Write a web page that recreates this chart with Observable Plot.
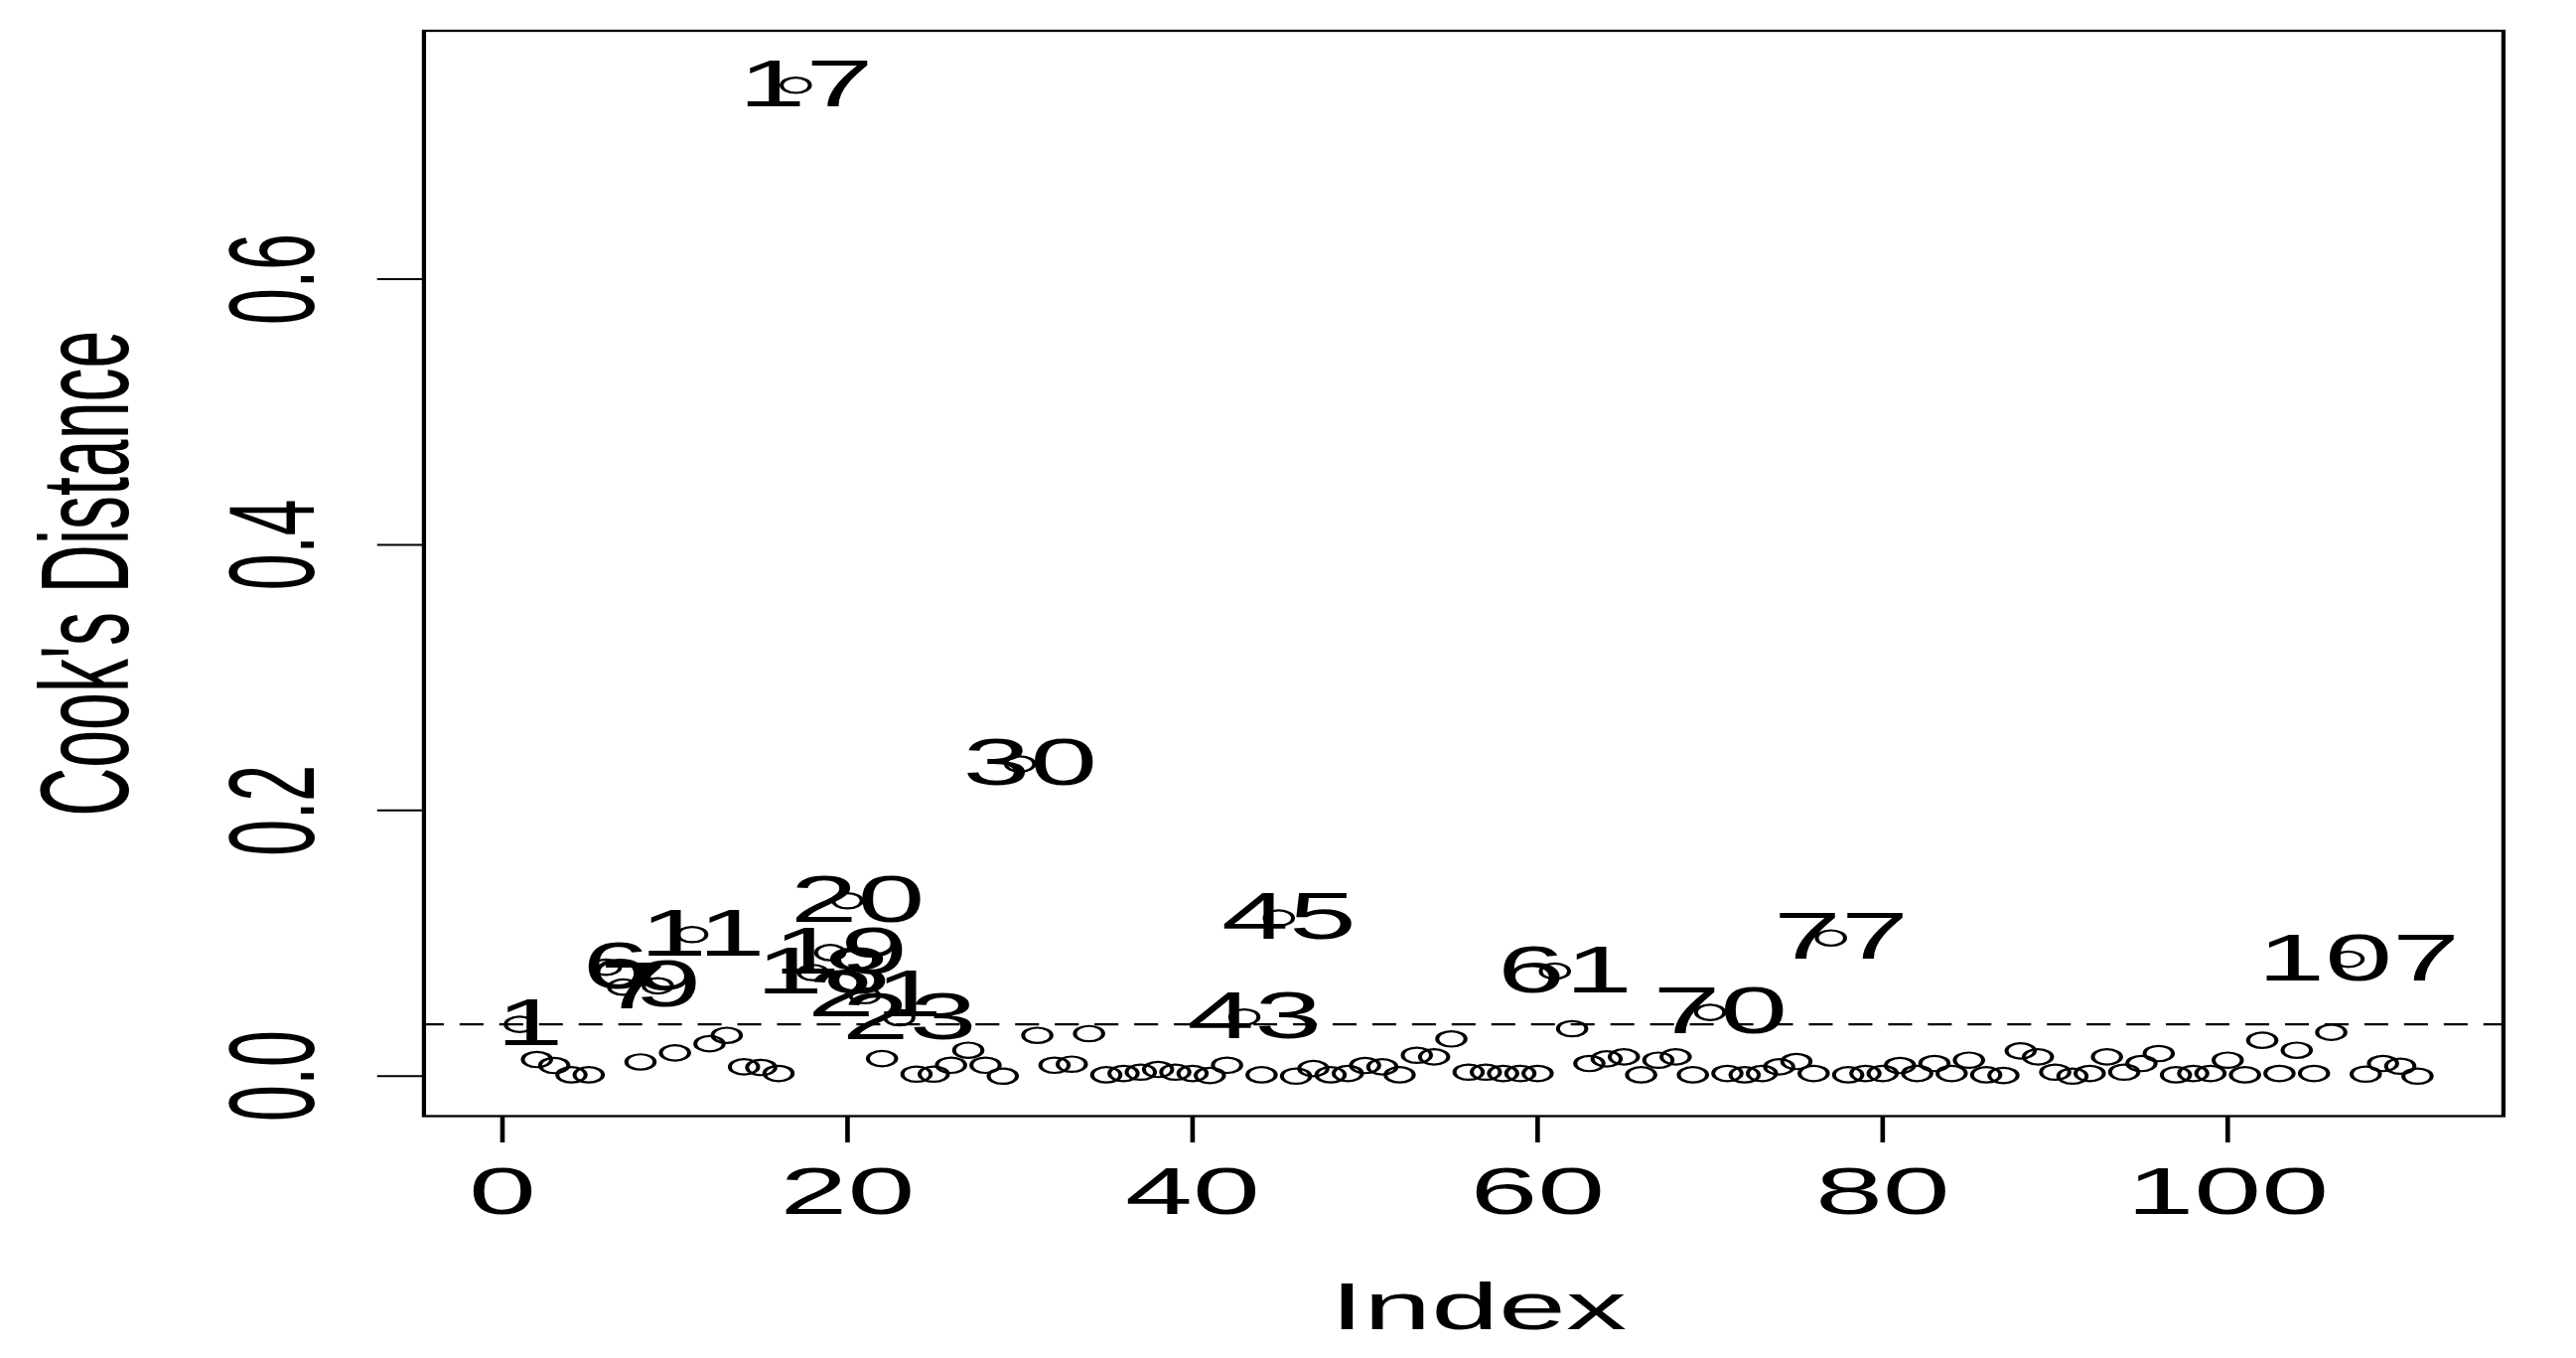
<!DOCTYPE html>
<html>
<head>
<meta charset="utf-8">
<script src="https://cdn.jsdelivr.net/npm/d3@7"></script>
<script src="https://cdn.jsdelivr.net/npm/@observablehq/plot@0.6"></script>
<style>
html, body { margin: 0; padding: 0; background: #fff; }
#chart svg { display: block; }
</style>
</head>
<body>
<div id="chart"></div>
<script>
const cooksD = [
  0.039, 0.0125, 0.008, 0.001, 0.001, 0.082, 0.067, 0.0107, 0.068, 0.0175,
  0.1066, 0.0244, 0.0307, 0.007, 0.0065, 0.002, 0.746, 0.078, 0.093, 0.132,
  0.0606, 0.0132, 0.044, 0.0015, 0.0015, 0.0082, 0.0195, 0.0082, 0.0, 0.235,
  0.0307, 0.0082, 0.009, 0.032, 0.001, 0.002, 0.003, 0.005, 0.003, 0.002,
  0.0005, 0.0082, 0.0445, 0.001, 0.119, 0.0, 0.0057, 0.001, 0.002, 0.008,
  0.007, 0.001, 0.0157, 0.0145, 0.028, 0.003, 0.003, 0.002, 0.002, 0.002,
  0.079, 0.0357, 0.0095, 0.013, 0.0145, 0.001, 0.012, 0.0145, 0.001, 0.048,
  0.002, 0.001, 0.002, 0.007, 0.011, 0.002, 0.104, 0.001, 0.002, 0.002,
  0.008, 0.002, 0.0095, 0.002, 0.012, 0.001, 0.0005, 0.019, 0.0145, 0.003,
  0.0, 0.002, 0.0145, 0.003, 0.0095, 0.017, 0.001, 0.002, 0.002, 0.012,
  0.001, 0.027, 0.002, 0.0195, 0.002, 0.033, 0.088, 0.0015, 0.0095, 0.0075,
  0.0
];
const labeledIdx = [1, 6, 7, 9, 11, 17, 18, 19, 20, 21, 23, 30, 43, 45, 61, 70, 77, 107];
const xTicks = [0, 20, 40, 60, 80, 100];
const yTicks = [0, 0.2, 0.4, 0.6];
const cutoff = 0.039;
const xTitle = "Index";
const yTitle = "Cook's Distance";

const S = 1.85;            // the reference is stretched horizontally
const FULLW = 2594, FULLH = 1367;
const W = FULLW / S, H = FULLH;
const font = "'Liberation Sans', Arial, Helvetica, sans-serif";

const pts = cooksD.map((d, i) => ({index: i + 1, d}));
const lab = pts.filter(p => labeledIdx.includes(p.index));

const plot = Plot.plot({
  width: W,
  height: H,
  marginLeft: 426 / S,
  marginRight: (FULLW - 2520) / S,
  marginTop: 30.5,
  marginBottom: FULLH - 1123,
  style: {fontFamily: font, background: "white", color: "black"},
  x: {domain: [-4.55, 115.98]},
  y: {domain: [-0.0301, 0.787]},
  marks: [
    Plot.ruleY([cutoff], {stroke: "black", strokeWidth: 2.3, strokeDasharray: "13,8.6", strokeDashoffset: 1.7}),
    Plot.dot(pts, {x: "index", y: "d", r: 7.7, stroke: "black", strokeWidth: 2.2, fill: "none"}),
    Plot.text(lab, {x: "index", y: "d", text: p => String(p.index), fontSize: 66, fill: "black", dx: 5.5}),
    Plot.frame({stroke: "black", strokeWidth: 2.3}),
    Plot.axisX({ticks: xTicks, tickSize: 27, tickPadding: 25, fontSize: 66, label: null,
                tickFormat: d => String(d), strokeWidth: 2.5}),
    Plot.axisY({ticks: yTicks, tickSize: 25, tickPadding: 35, tickRotate: -90, fontSize: 66, label: null,
                tickFormat: d => d.toFixed(1), strokeWidth: 2}),
    Plot.text([xTitle], {text: d => d, frameAnchor: "bottom", textAnchor: "middle", lineAnchor: "bottom",
                         dx: 8, dy: 214, fontSize: 66, fill: "black"}),
    Plot.text([yTitle], {text: d => d, frameAnchor: "left", textAnchor: "middle", lineAnchor: "bottom",
                         rotate: -90, dx: -161, fontSize: 68, fill: "black"})
  ]
});

plot.setAttribute("width", FULLW);
plot.setAttribute("height", FULLH);
plot.setAttribute("preserveAspectRatio", "none");
plot.style.width = FULLW + "px";
plot.style.height = FULLH + "px";
plot.style.maxWidth = "none";
document.getElementById("chart").appendChild(plot);
</script>
</body>
</html>
